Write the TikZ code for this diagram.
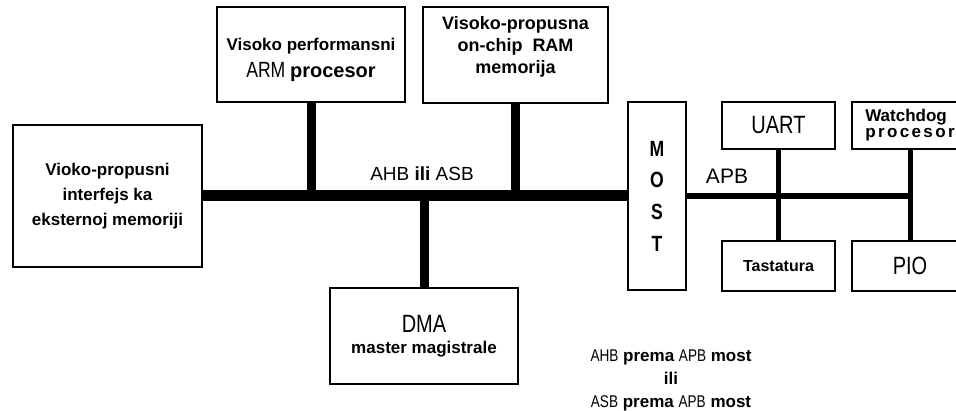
\documentclass[tikz,border=0pt]{standalone}
\usepackage{fontspec}
\setmainfont{Liberation Sans}
\newfontfamily\usko[FakeStretch=0.8]{Liberation Sans}
\newfontfamily\razmak[LetterSpace=14]{Liberation Sans}
\usetikzlibrary{calc}

\begin{document}
\begin{tikzpicture}[x=1pt,y=-1pt,
  blok/.style={draw, line width=2pt, inner sep=0pt, align=center,
    font=\bfseries\fontsize{17}{25}\selectfont},
  ahbbus/.style={line width=11pt},
  ahbgrana/.style={line width=9pt},
  apbbus/.style={line width=6.5pt},
  apbgrana/.style={line width=5pt}]
  \useasboundingbox (0,0) rectangle (956,411);
  \fill[white] (0,0) rectangle (956,411);

  % Blokovi na AHB/ASB magistrali
  \node[blok, minimum width=189pt, minimum height=142pt] (ext) at (107.5,196)
    {Vioko-propusni\\interfejs ka\\eksternoj memoriji};
  % \rule sa nultom sirinom samo pomera tekst u bloku
  \node[blok, minimum width=188pt, minimum height=95pt,
    font=\bfseries\fontsize{17}{27}\selectfont] (arm) at (311,54.5)
    {\rule{0pt}{22.5pt}Visoko performansni\\
     {\mdseries\usko\fontsize{22}{27}\selectfont ARM} {\fontsize{20}{27}\selectfont procesor}};
  \node[blok, minimum width=185pt, minimum height=96pt,
    font=\bfseries\fontsize{18}{22}\selectfont] (ram) at (515.5,55)
    {Visoko-propusna\\on-chip\ \ RAM\\memorija\rule[-20pt]{0pt}{1pt}};
  \node[blok, minimum width=188pt, minimum height=96pt,
    font=\bfseries\fontsize{17}{21}\selectfont] (dma) at (424,336)
    {{\mdseries\usko\fontsize{25}{28}\selectfont DMA}\\master magistrale};

  % Most
  \node[blok, minimum width=58pt, minimum height=188pt,
    font=\usko\bfseries\fontsize{22}{31.7}\selectfont] (most) at (657,196)
    {M\\O\\S\\T};

  % Blokovi na APB magistrali
  \node[blok, minimum width=113pt, minimum height=47pt,
    font=\usko\fontsize{25}{28}\selectfont] (uart) at (778.5,125.5) {UART};
  \node[blok, minimum width=116pt, minimum height=47pt, align=left,
    font=\bfseries\fontsize{17}{16}\selectfont] (watch) at (910,125.5)
    {Watchdog\\{\razmak\bfseries procesor}};
  \node[blok, minimum width=113pt, minimum height=50pt,
    font=\bfseries\fontsize{16}{20}\selectfont] (tast) at (778.5,266) {Tastatura};
  \node[blok, minimum width=116pt, minimum height=50pt,
    font=\usko\fontsize{25}{28}\selectfont] (pio) at (910,266) {PIO};

  % Magistrale
  \draw[ahbbus] (ext.east) -- (most.west);
  \draw[ahbgrana] (arm.south) -- (arm.south |- ext.east);
  \draw[ahbgrana] (ram.south) -- (ram.south |- ext.east);
  \draw[ahbgrana] (dma.north) -- (dma.north |- ext.east);
  \draw[apbbus] (most.east) -- (most.east -| watch.south);
  \draw[apbgrana] (uart.south) -- (tast.north);
  \draw[apbgrana] (watch.south) -- (pio.north);

  % Natpisi
  \node[font=\fontsize{19}{21}\selectfont] (ahbnatpis) at (422,174)
    {AHB {\bfseries ili} ASB};
  \node[font=\fontsize{21}{24}\selectfont] (apbnatpis) at (727,176) {APB};
  \node[align=center, font=\bfseries\fontsize{17}{23}\selectfont] (napomena) at (671,380)
    {{\mdseries\usko AHB} prema {\mdseries\usko APB} most\\ili\\
     {\mdseries\usko ASB} prema {\mdseries\usko APB} most};
\end{tikzpicture}
\end{document}
